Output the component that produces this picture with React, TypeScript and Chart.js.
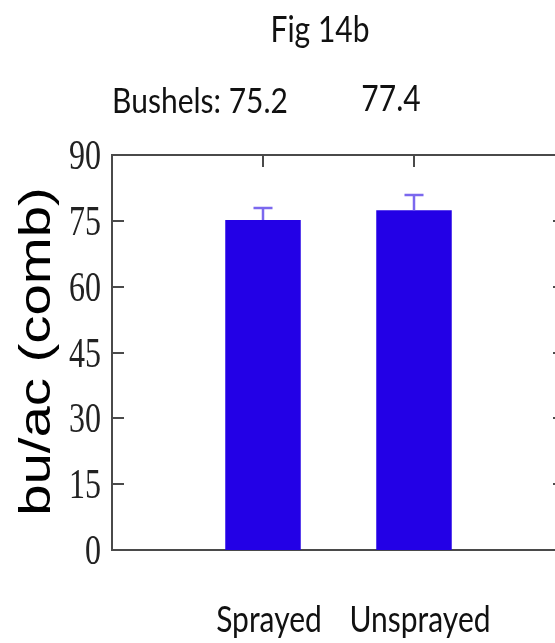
import React, { useEffect, useRef } from "react";
import { Chart, registerables } from "chart.js";

Chart.register(...registerables);

// ---- data ----
const chartTitle = "Fig 14b";
const categories = ["", "Sprayed", "Unsprayed", ""];
const values: (number | null)[] = [null, 75.2, 77.4, null];
const errors: (number | null)[] = [null, 2.7, 3.5, null];
const yTicks = [0, 15, 30, 45, 60, 75, 90];
const yTitle = "bu/ac (comb)";
const valuePrefix = "Bushels: ";

const W = 580;
const H = 643;

const BAR = "#2300e6";
const ERR = "#7b68ee";
const AXIS = "#4a4a4a";

function drawText(
  ctx: CanvasRenderingContext2D,
  text: string,
  x: number,
  y: number,
  font: string,
  align: CanvasTextAlign,
  sy: number,
  color = "#111"
) {
  ctx.save();
  ctx.translate(x, y);
  ctx.scale(1, sy);
  ctx.font = font;
  ctx.textAlign = align;
  ctx.textBaseline = "alphabetic";
  ctx.fillStyle = color;
  ctx.fillText(text, 0, 0);
  ctx.restore();
}

const figPlugin = {
  id: "figPlugin",
  beforeDatasetsDraw(chart: any) {
    const { ctx, chartArea: a, scales } = chart;
    const xs = scales.x;
    const ys = scales.y;
    ctx.save();
    ctx.strokeStyle = AXIS;
    ctx.lineWidth = 2;
    ctx.strokeRect(a.left, a.top, a.right - a.left, a.bottom - a.top);
    ctx.beginPath();
    yTicks.forEach((v) => {
      const py = Math.round(ys.getPixelForValue(v));
      ctx.moveTo(a.left, py);
      ctx.lineTo(a.left + 12, py);
      ctx.moveTo(a.right, py);
      ctx.lineTo(a.right - 12, py);
    });
    categories.forEach((c, i) => {
      if (!c) return;
      const px = Math.round(xs.getPixelForValue(i));
      ctx.moveTo(px, a.top);
      ctx.lineTo(px, a.top + 12);
      ctx.moveTo(px, a.bottom);
      ctx.lineTo(px, a.bottom - 12);
    });
    ctx.stroke();
    ctx.restore();
  },
  afterDatasetsDraw(chart: any) {
    const { ctx, chartArea: a, scales } = chart;
    const xs = scales.x;
    const ys = scales.y;

    // error bars (upper only)
    ctx.save();
    ctx.strokeStyle = ERR;
    ctx.lineWidth = 2.5;
    values.forEach((v, i) => {
      const e = errors[i];
      if (v == null || e == null) return;
      const px = xs.getPixelForValue(i);
      const top = ys.getPixelForValue(v + e);
      const base = ys.getPixelForValue(v);
      ctx.beginPath();
      ctx.moveTo(px, base);
      ctx.lineTo(px, top);
      ctx.moveTo(px - 9.5, top);
      ctx.lineTo(px + 9.5, top);
      ctx.stroke();
    });
    ctx.restore();

    // y tick labels
    yTicks.forEach((v) => {
      const py = ys.getPixelForValue(v);
      drawText(ctx, String(v), a.left - 11, py + 14, "32px 'Liberation Serif'", "right", 1.3, "#222");
    });

    // y axis title
    ctx.save();
    ctx.translate(50, (a.top + a.bottom) / 2 - 1);
    ctx.rotate(-Math.PI / 2);
    ctx.scale(1.28, 1);
    ctx.font = "44px 'Liberation Sans'";
    ctx.textAlign = "center";
    ctx.textBaseline = "alphabetic";
    ctx.fillStyle = "#000";
    ctx.fillText(yTitle, 0, 0);
    ctx.restore();

    // title
    drawText(ctx, chartTitle, 320, 42, "30px Lato", "center", 1.2);

    // value annotations
    const x1 = xs.getPixelForValue(1);
    const x2 = xs.getPixelForValue(2);
    drawText(ctx, valuePrefix + (values[1] as number).toFixed(1), x1 + 25, 113, "30px Lato", "right", 1.15);
    drawText(ctx, (values[2] as number).toFixed(1), x2 - 23, 111, "30px Lato", "center", 1.2);

    // category labels
    categories.forEach((c, i) => {
      if (!c) return;
      const px = xs.getPixelForValue(i);
      drawText(ctx, c, px + 6, 632, "30px Lato", "center", 1.2);
    });
  },
};

export default function App() {
  const ref = useRef<HTMLCanvasElement | null>(null);
  useEffect(() => {
    if (!ref.current) return;
    const chart = new Chart(ref.current, {
      type: "bar",
      data: {
        labels: categories,
        datasets: [
          {
            data: values as any,
            backgroundColor: BAR,
            borderWidth: 0,
            categoryPercentage: 1,
            barPercentage: 0.5,
          },
        ],
      },
      options: {
        responsive: false,
        animation: false,
        devicePixelRatio: 1,
        layout: { padding: { left: 112, top: 155, right: W - 565, bottom: H - 550 } },
        plugins: { legend: { display: false }, tooltip: { enabled: false }, title: { display: false } },
        scales: {
          x: { type: "category", offset: false, display: false, grid: { display: false } },
          y: { min: 0, max: 90, display: false, ticks: { stepSize: 15 }, grid: { display: false } },
        },
      },
      plugins: [figPlugin],
    });
    return () => chart.destroy();
  }, []);
  return (
    <div
      style={{
        position: "fixed",
        left: 0,
        top: 0,
        width: 555,
        height: 643,
        overflow: "hidden",
        background: "#fff",
      }}
    >
      <canvas ref={ref} width={W} height={H} style={{ width: W, height: H, display: "block" }} />
    </div>
  );
}
